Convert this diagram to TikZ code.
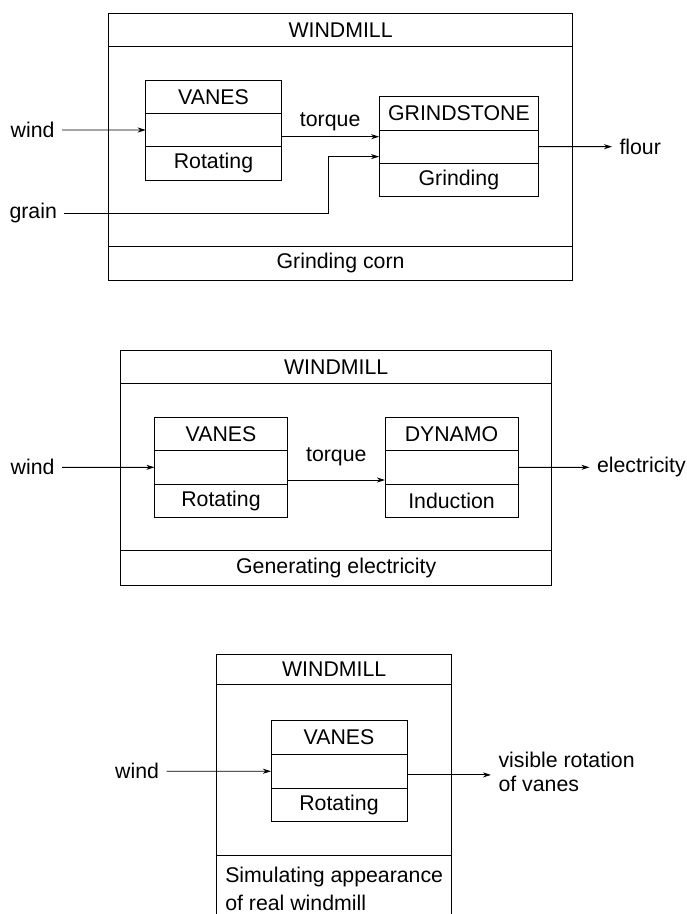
\documentclass[tikz,border=0pt]{standalone}
\usepackage{fontspec}
\setmainfont{Liberation Sans}
\usetikzlibrary{positioning,arrows.meta}

\begin{document}
\begin{tikzpicture}[
        x=1pt, y=-1pt,
        font=\fontsize{21.3}{25}\selectfont,
        strip/.style={rectangle, draw=black, line width=0.9pt, outer sep=0pt, inner sep=0pt, align=center},
        flowtext/.style={inner sep=7.5pt, outer sep=0pt},
        arrow/.style={line width=0.9pt, -{Stealth[length=8pt, width=5pt, inset=2.5pt]}}
    ]
        \useasboundingbox (0,0) rectangle (687,914);
        \clip (0,0) rectangle (687,914);

        % grinding corn
        \node[strip, minimum width=463.5pt, minimum height=33.3pt] (millA) at (340.6,30) {WINDMILL};
        \node[strip, minimum width=463.5pt, minimum height=200pt, below=0pt of millA] (millAbody) {};
        \node[strip, minimum width=463.5pt, minimum height=33.3pt, below=0pt of millAbody] (millAfn) {Grinding corn};

        \node[strip, minimum width=135.5pt, minimum height=33.3pt] (vanesA) at (213.5,96.7) {VANES};
        \node[strip, minimum width=135.5pt, minimum height=33.3pt, below=0pt of vanesA] (vanesAmid) {};
        \node[strip, minimum width=135.5pt, minimum height=33.3pt, below=0pt of vanesAmid] (vanesAfn) {Rotating};

        \node[strip, minimum width=159.6pt, minimum height=33.3pt] (grindA) at (458.9,113.3) {GRINDSTONE};
        \node[strip, minimum width=159.6pt, minimum height=33.3pt, below=0pt of grindA] (grindAmid) {};
        \node[strip, minimum width=159.6pt, minimum height=33.3pt, below=0pt of grindAmid] (grindAfn) {Grinding};

        \node[flowtext, anchor=east] (windA) at (62,130) {wind};
        \node[flowtext, anchor=east] (grainA) at (64.4,213.3) {grain};
        \node[flowtext, anchor=west] (flourA) at (612,146.7) {flour};
        \coordinate (grainAin) at ([yshift=-10pt]grindAmid.west);

        \draw[arrow] (windA) -- (vanesAmid);
        \draw[arrow] ([yshift=-6.7pt]vanesAmid.east) -- ([yshift=-6.7pt]vanesAmid.east -| grindAmid.west)
            node[midway, above=2.5pt] (torqueA) {torque};
        \draw[arrow] (grainA.east) -| ([xshift=-50.2pt]grainAin) -- (grainAin);
        \draw[arrow] (grindAmid) -- (flourA);

        % generating electricity
        \node[strip, minimum width=431.2pt, minimum height=33.3pt] (millB) at (336.2,366.7) {WINDMILL};
        \node[strip, minimum width=431.2pt, minimum height=167.4pt, below=0pt of millB] (millBbody) {};
        \node[strip, minimum width=431.2pt, minimum height=34.3pt, below=0pt of millBbody] (millBfn) {Generating electricity};

        \node[strip, minimum width=133.1pt, minimum height=33.3pt] (vanesB) at (221,434) {VANES};
        \node[strip, minimum width=133.1pt, minimum height=33.3pt, below=0pt of vanesB] (vanesBmid) {};
        \node[strip, minimum width=133.1pt, minimum height=33.3pt, below=0pt of vanesBmid] (vanesBfn) {Rotating};

        \node[strip, minimum width=133pt, minimum height=33.3pt] (dynamoB) at (451.5,434) {DYNAMO};
        \node[strip, minimum width=133pt, minimum height=33.3pt, below=0pt of dynamoB] (dynamoBmid) {};
        \node[strip, minimum width=133pt, minimum height=33.3pt, below=0pt of dynamoBmid] (dynamoBfn) {Induction};

        \node[flowtext, anchor=east] (windB) at (62,467.3) {wind};
        \node[flowtext, anchor=west] (elecB) at (589.5,467.3) {electricity};

        \draw[arrow] (windB) -- (vanesBmid);
        \draw[arrow] ([yshift=-12.7pt]vanesBmid.east) -- ([yshift=-12.7pt]vanesBmid.east -| dynamoBmid.west)
            node[midway, above=10.8pt] (torqueB) {torque};
        \draw[arrow] (dynamoBmid) -- (elecB);

        % simulating appearance
        \node[strip, minimum width=235pt, minimum height=30pt] (millC) at (334.2,669) {WINDMILL};
        \node[strip, minimum width=235pt, minimum height=171pt, below=0pt of millC] (millCbody) {};
        \node[strip, minimum width=235pt, inner ysep=12pt, align=left,
            font=\fontsize{21.3}{28}\selectfont, below=0pt of millCbody] (millCfn) {Simulating appearance\\of real windmill};

        \node[strip, minimum width=136pt, minimum height=33.7pt] (vanesC) at (339,737.5) {VANES};
        \node[strip, minimum width=136pt, minimum height=33.7pt, below=0pt of vanesC] (vanesCmid) {};
        \node[strip, minimum width=136pt, minimum height=33.7pt, below=0pt of vanesCmid] (vanesCfn) {Rotating};

        \node[flowtext, anchor=east] (windC) at (166.5,771.3) {wind};
        \node[flowtext, anchor=west, align=left, font=\fontsize{21.3}{24}\selectfont] (visC) at (491,771.8) {visible rotation\\of vanes};

        \draw[arrow] (windC) -- (vanesCmid);
        \draw[arrow] ([yshift=-3.7pt]vanesCmid.east) -- ([yshift=-3.7pt]vanesCmid.east -| visC.west);
    \end{tikzpicture}
\end{document}
